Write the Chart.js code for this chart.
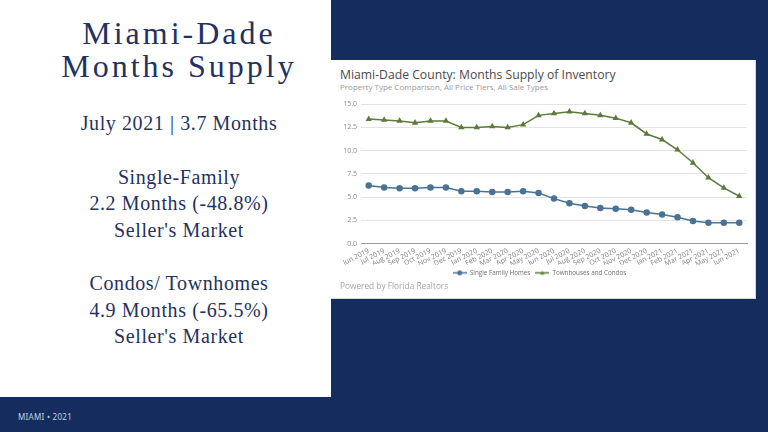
<!DOCTYPE html>
<html>
<head>
<meta charset="utf-8">
<script src="https://cdn.jsdelivr.net/npm/chart.js@4"></script>
<style>
  html, body { margin: 0; padding: 0; }
  body { width: 768px; height: 432px; background: #142d5e; position: relative; overflow: hidden; }
  #left { position: absolute; left: 0; top: 0; width: 331px; height: 397px; background: #fff; }
  #txt { position: absolute; left: 22px; top: 0; width: 314px; text-align: center; color: #1f3261;
         font-family: "Liberation Serif", "Times New Roman", serif; }
  #txt .t { font-size: 32px; line-height: 33px; letter-spacing: 3px; }
  #txt .s { font-size: 20px; line-height: 26.5px; letter-spacing: 0.6px; }
  #box { position: absolute; left: 331px; top: 60px; width: 424px; height: 238px; background: #fff;
         border-right: 1px solid #d8d8d8; border-bottom: 1px solid #d8d8d8; }
  #ctitle { position: absolute; left: 9px; top: 6px; font: 12.2px "Open Sans", sans-serif; color: #4a4a4a; white-space: nowrap; }
  #csub { position: absolute; left: 9px; top: 21px; font: 8px "Open Sans", sans-serif; color: #9a9a9a; white-space: nowrap; }
  #powered { position: absolute; left: 9px; top: 220px; font: 8.3px "Open Sans", sans-serif; color: #a5a5a5; }
  #wrap { position: absolute; left: 1px; top: 36px; width: 424px; height: 190px; }
  #foot { position: absolute; left: 18px; top: 411px; font: 8px "Noto Sans", sans-serif; color: #c9d1e2; letter-spacing: 0.3px; }
</style>
</head>
<body>
<div id="left"></div>
<div id="txt">
  <div class="t" style="margin-top:17px">Miami-Dade</div>
  <div class="t">Months Supply</div>
  <div class="s" style="margin-top:27px">July 2021 | 3.7 Months</div>
  <div class="s" style="margin-top:27px">Single-Family</div>
  <div class="s">2.2 Months (-48.8%)</div>
  <div class="s">Seller's Market</div>
  <div class="s" style="margin-top:27px">Condos/ Townhomes</div>
  <div class="s">4.9 Months (-65.5%)</div>
  <div class="s">Seller's Market</div>
</div>
<div id="box">
  <div id="ctitle">Miami-Dade County: Months Supply of Inventory</div>
  <div id="csub">Property Type Comparison, All Price Tiers, All Sale Types</div>
  <div id="wrap"><canvas id="supplyChart"></canvas></div>
  <div id="powered">Powered by Florida Realtors</div>
</div>
<div id="foot">MIAMI • 2021</div>

<script>
var months = ["Jun 2019","Jul 2019","Aug 2019","Sep 2019","Oct 2019","Nov 2019","Dec 2019",
  "Jan 2020","Feb 2020","Mar 2020","Apr 2020","May 2020","Jun 2020","Jul 2020","Aug 2020",
  "Sep 2020","Oct 2020","Nov 2020","Dec 2020","Jan 2021","Feb 2021","Mar 2021","Apr 2021",
  "May 2021","Jun 2021"];
var singleFamily = [6.25, 6.05, 5.95, 5.95, 6.05, 6.05, 5.65, 5.65, 5.55, 5.55, 5.65, 5.45, 4.85,
  4.35, 4.05, 3.85, 3.75, 3.65, 3.35, 3.15, 2.85, 2.45, 2.25, 2.25, 2.25];
var townhouses = [13.4, 13.3, 13.2, 13.0, 13.2, 13.2, 12.5, 12.5, 12.6, 12.5, 12.8, 13.8, 14.0,
  14.2, 14.0, 13.8, 13.5, 13.0, 11.8, 11.2, 10.1, 8.7, 7.1, 6.0, 5.1];
var yTicks = [0, 2.5, 5, 7.5, 10, 12.5, 15];

var blue = '#4a7295';
var green = '#5d7b3a';

// small line + marker picture for the legend
function legendIcon(color, shape) {
  var c = document.createElement('canvas');
  c.width = 14; c.height = 7;
  var ctx = c.getContext('2d');
  ctx.strokeStyle = color; ctx.fillStyle = color; ctx.lineWidth = 1.5;
  ctx.beginPath(); ctx.moveTo(0, 3.5); ctx.lineTo(14, 3.5); ctx.stroke();
  ctx.beginPath();
  if (shape == 'circle') {
    ctx.arc(7, 3.5, 2.5, 0, Math.PI * 2);
  } else {
    ctx.moveTo(7, 1.2); ctx.lineTo(9.2, 5.2); ctx.lineTo(4.8, 5.2); ctx.closePath();
  }
  ctx.fill();
  return c;
}
var icons = [legendIcon(blue, 'circle'), legendIcon(green, 'triangle')];

var tickFont = { family: 'Open Sans', size: 7 };

var chart = new Chart(document.getElementById('supplyChart'), {
  type: 'line',
  data: {
    labels: months,
    datasets: [{
      label: 'Single Family Homes',
      data: singleFamily,
      borderColor: blue,
      backgroundColor: blue,
      borderWidth: 1.5,
      pointRadius: 2.5,
      pointStyle: 'circle',
      tension: 0
    }, {
      label: 'Townhouses and Condos',
      data: townhouses,
      borderColor: green,
      backgroundColor: green,
      borderWidth: 1.5,
      pointRadius: 2.2,
      pointStyle: 'triangle',
      tension: 0
    }]
  },
  options: {
    responsive: true,
    maintainAspectRatio: false,
    animation: false,
    layout: { padding: { top: 8, right: 9, left: 0, bottom: 0 } },
    scales: {
      x: {
        offset: true,
        grid: { display: false, drawTicks: false },
        border: { color: '#9a9a9a' },
        ticks: { font: tickFont, color: '#808080', autoSkip: false, maxRotation: 27, minRotation: 27, padding: 3 },
        afterFit: function (s) { s.height = 21; }
      },
      y: {
        min: 0, max: 15,
        afterBuildTicks: function (s) { s.ticks = yTicks.map(function (v) { return { value: v }; }); },
        grid: { color: '#e4e4e4', drawTicks: false },
        border: { display: false },
        ticks: { font: tickFont, color: '#8a8a8a', padding: 4, callback: function (v) { return v.toFixed(1); } },
        afterFit: function (s) { s.width = 29; }
      }
    },
    plugins: {
      legend: {
        position: 'bottom',
        labels: {
          font: { family: 'Open Sans', size: 6.3 },
          color: '#707070',
          usePointStyle: true,
          pointStyleWidth: 14,
          boxHeight: 7,
          padding: 5,
          generateLabels: function (c) {
            var items = Chart.defaults.plugins.legend.labels.generateLabels(c);
            items.forEach(function (it, i) { it.pointStyle = icons[i]; });
            return items;
          }
        }
      },
      tooltip: { enabled: false }
    }
  }
});
</script>
</body>
</html>
